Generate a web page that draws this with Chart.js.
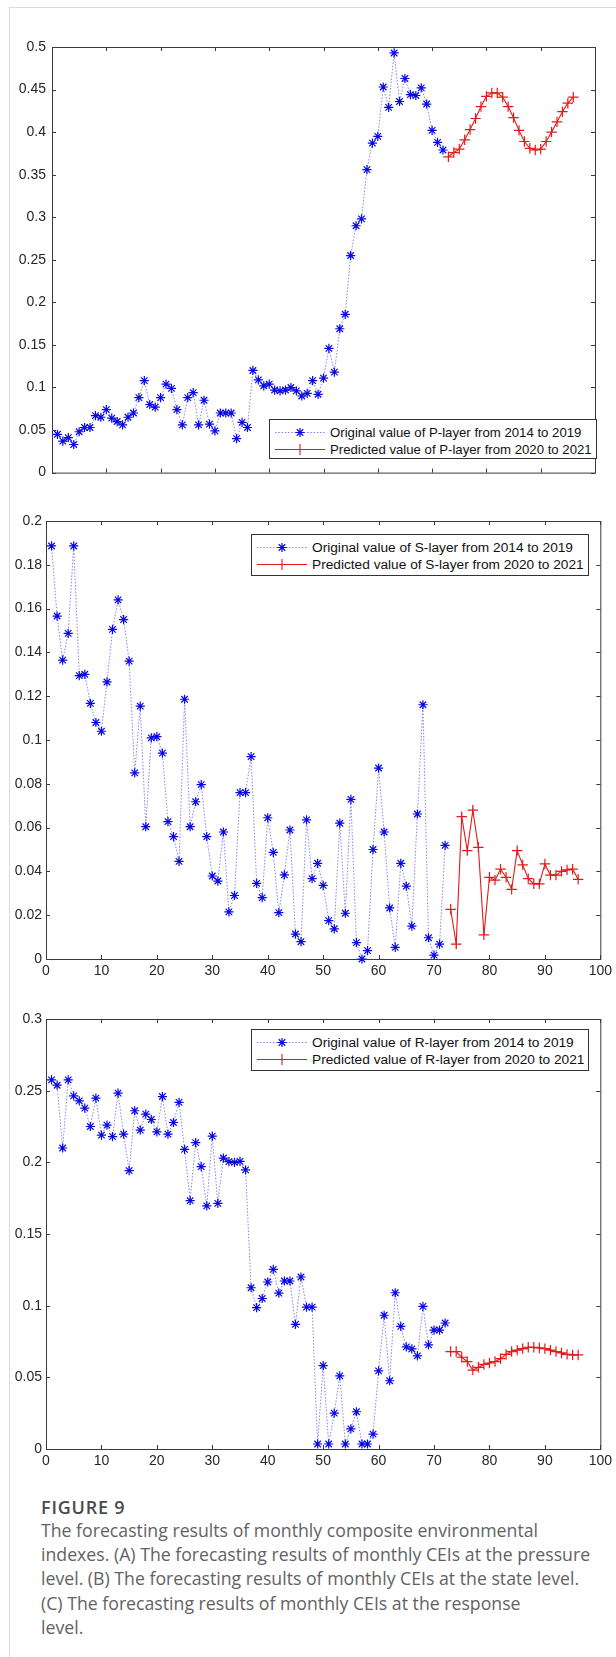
<!DOCTYPE html>
<html>
<head>
<meta charset="utf-8">
<script src="https://cdn.jsdelivr.net/npm/chart.js@4.4.0/dist/chart.umd.min.js"></script>
<style>
  html, body { margin: 0; padding: 0; background: #fff; }
  body { width: 616px; height: 1657px; position: relative; overflow: hidden; font-family: 'Liberation Sans', Arial, sans-serif; }
  .card { position: absolute; left: 9px; top: 7px; width: 700px; height: 1700px; border-left: 1px solid #dcdcdc; border-top: 1px solid #dcdcdc; }
  .panel { position: absolute; left: 0; width: 616px; overflow: hidden; }
  .panel canvas { position: absolute; left: 0; top: 0; }
  .legend { position: absolute; background: #fff; border: 1px solid #333; box-sizing: border-box; font-size: 13.7px; color: #111; }
  .legend .row { position: absolute; left: 0; height: 17px; display: flex; align-items: center; white-space: nowrap; }
  .legend svg { margin-left: 5px; margin-right: 5px; flex: none; }
  .fig-title { position: absolute; left: 41px; top: 1497px; font-family: 'Open Sans', Lato, sans-serif; font-size: 18px; font-weight: 600; letter-spacing: 0.8px; line-height: 20px; color: #4a4a4a; }
  .caption { position: absolute; left: 41px; top: 1518px; font-family: 'Open Sans', Lato, sans-serif; font-size: 17.7px; line-height: 24.2px; color: #626262; white-space: nowrap; }
</style>
</head>
<body>
<div class="card"></div>

<div class="panel" id="wrapP" style="top:27px;height:451px;"><canvas id="chartP" width="616" height="460"></canvas></div>
<div class="panel" id="wrapS" style="top:500px;height:500px;"><canvas id="chartS" width="616" height="500"></canvas></div>
<div class="panel" id="wrapR" style="top:998px;height:490px;"><canvas id="chartR" width="616" height="490"></canvas></div>

<div class="legend" id="legP" style="left:269px;top:419px;width:328px;height:40px;font-size:13.2px;"></div>
<div class="legend" id="legS" style="left:251px;top:534px;width:338px;height:42px;"></div>
<div class="legend" id="legR" style="left:251px;top:1029px;width:338px;height:42px;"></div>

<div class="fig-title">FIGURE 9</div>
<div class="caption">The forecasting results of monthly composite environmental<br>indexes. (A) The forecasting results of monthly CEIs at the pressure<br>level. (B) The forecasting results of monthly CEIs at the state level.<br>(C) The forecasting results of monthly CEIs at the response<br>level.</div>

<script>
(function () {
  'use strict';

  // months 1-72 = 2014..2019 (observed), 73-96 = 2020..2021 (predicted)
  var origMonths = [1, 2, 3, 4, 5, 6, 7, 8, 9, 10, 11, 12, 13, 14, 15, 16, 17, 18, 19, 20, 21, 22, 23, 24,
    25, 26, 27, 28, 29, 30, 31, 32, 33, 34, 35, 36, 37, 38, 39, 40, 41, 42, 43, 44, 45, 46, 47, 48,
    49, 50, 51, 52, 53, 54, 55, 56, 57, 58, 59, 60, 61, 62, 63, 64, 65, 66, 67, 68, 69, 70, 71, 72];
  var predMonths = [73, 74, 75, 76, 77, 78, 79, 80, 81, 82, 83, 84,
    85, 86, 87, 88, 89, 90, 91, 92, 93, 94, 95, 96];

  var xTicks = [0, 10, 20, 30, 40, 50, 60, 70, 80, 90, 100];
  var yTicksP = [0, 0.05, 0.1, 0.15, 0.2, 0.25, 0.3, 0.35, 0.4, 0.45, 0.5];
  var yTicksS = [0, 0.02, 0.04, 0.06, 0.08, 0.1, 0.12, 0.14, 0.16, 0.18, 0.2];
  var yTicksR = [0, 0.05, 0.1, 0.15, 0.2, 0.25, 0.3];

  // P-layer
  var pOrig = [0.045, 0.037, 0.041, 0.033, 0.048, 0.053, 0.053, 0.067, 0.065, 0.074, 0.064, 0.060,
    0.056, 0.065, 0.070, 0.088, 0.108, 0.080, 0.077, 0.088, 0.104, 0.099, 0.074, 0.056,
    0.088, 0.094, 0.056, 0.085, 0.057, 0.049, 0.070, 0.070, 0.070, 0.040, 0.059, 0.053,
    0.120, 0.109, 0.102, 0.104, 0.097, 0.096, 0.097, 0.100, 0.096, 0.090, 0.093, 0.108,
    0.092, 0.111, 0.146, 0.118, 0.169, 0.186, 0.255, 0.290, 0.298, 0.356, 0.387, 0.395,
    0.453, 0.429, 0.493, 0.436, 0.463, 0.444, 0.443, 0.452, 0.433, 0.402, 0.388, 0.379];
  var pPred = [0.371, 0.376, 0.380, 0.391, 0.403, 0.416, 0.430, 0.442, 0.446, 0.446, 0.441, 0.430,
    0.417, 0.402, 0.389, 0.381, 0.379, 0.380, 0.389, 0.400, 0.412, 0.424, 0.434, 0.441];

  // S-layer
  var sOrig = [0.1886, 0.1566, 0.1365, 0.1487, 0.1886, 0.1294, 0.1300, 0.1167, 0.1080, 0.1040, 0.1265, 0.1505,
    0.1640, 0.1550, 0.1360, 0.0850, 0.1155, 0.0604, 0.1010, 0.1015, 0.0940, 0.0627, 0.0559, 0.0446,
    0.1186, 0.0604, 0.0718, 0.0796, 0.0559, 0.0379, 0.0356, 0.0580, 0.0215, 0.0290, 0.0760, 0.0760,
    0.0924, 0.0345, 0.0280, 0.0645, 0.0487, 0.0212, 0.0384, 0.0589, 0.0114, 0.0079, 0.0635, 0.0367,
    0.0437, 0.0336, 0.0175, 0.0138, 0.0620, 0.0209, 0.0729, 0.0075, 0.0000, 0.0038, 0.0500, 0.0872,
    0.0580, 0.0233, 0.0053, 0.0437, 0.0333, 0.0150, 0.0662, 0.1161, 0.0097, 0.0018, 0.0068, 0.0519];
  var sPred = [0.0227, 0.0068, 0.0650, 0.0495, 0.0680, 0.0510, 0.0110, 0.0373, 0.0360, 0.0410, 0.0373, 0.0318,
    0.0495, 0.0430, 0.0367, 0.0343, 0.0343, 0.0434, 0.0383, 0.0383, 0.0400, 0.0407, 0.0410, 0.0364];

  // R-layer
  var rOrig = [0.2575, 0.2538, 0.2100, 0.2575, 0.2464, 0.2429, 0.2378, 0.2250, 0.2448, 0.2190, 0.2260, 0.2179,
    0.2483, 0.2197, 0.1942, 0.2360, 0.2225, 0.2336, 0.2299, 0.2213, 0.2459, 0.2197, 0.2278, 0.2418,
    0.2090, 0.1733, 0.2137, 0.1970, 0.1696, 0.2183, 0.1714, 0.2030, 0.2005, 0.2000, 0.2007, 0.1947,
    0.1125, 0.0986, 0.1050, 0.1165, 0.1253, 0.1088, 0.1172, 0.1172, 0.0870, 0.1200, 0.0990, 0.0990,
    0.0035, 0.0582, 0.0035, 0.0250, 0.0510, 0.0035, 0.0140, 0.0260, 0.0035, 0.0035, 0.0104, 0.0545,
    0.0933, 0.0476, 0.1090, 0.0856, 0.0712, 0.0698, 0.0650, 0.0995, 0.0726, 0.0830, 0.0830, 0.0879];
  var rPred = [0.0680, 0.0680, 0.0640, 0.0610, 0.0550, 0.0570, 0.0590, 0.0600, 0.0610, 0.0630, 0.0660, 0.0680,
    0.0690, 0.0700, 0.0710, 0.0710, 0.0705, 0.0700, 0.0690, 0.0680, 0.0670, 0.0660, 0.0657, 0.0656];

  var legendP = ['Original value of P-layer from 2014 to 2019', 'Predicted value of P-layer from 2020 to 2021'];
  var legendS = ['Original value of S-layer from 2014 to 2019', 'Predicted value of S-layer from 2020 to 2021'];
  var legendR = ['Original value of R-layer from 2014 to 2019', 'Predicted value of R-layer from 2020 to 2021'];

  var AXIS_COLOR = '#3a3a3a';
  var TICK_COLOR = '#262626';
  var BLUE = '#0808e8';
  var BLUE_LINE = 'rgba(60, 60, 225, 0.6)';
  var RED = '#e41a1a';
  var FONT = "'Liberation Sans', Arial, sans-serif";

  function fmt(v) {
    return String(parseFloat(Number(v).toFixed(3)));
  }

  // MATLAB-like box with inward ticks on all four sides
  var matlabBox = {
    id: 'matlabBox',
    beforeDatasetsDraw: function (chart) {
      var ctx = chart.ctx;
      var a = chart.chartArea;
      var xs = chart.scales.x;
      var ys = chart.scales.y;
      var tl = 4;
      ctx.save();
      ctx.strokeStyle = AXIS_COLOR;
      ctx.lineWidth = 1;
      ctx.beginPath();
      xs.ticks.forEach(function (t) {
        var px = Math.round(xs.getPixelForValue(t.value)) + 0.5;
        ctx.moveTo(px, a.bottom); ctx.lineTo(px, a.bottom - tl);
        ctx.moveTo(px, a.top); ctx.lineTo(px, a.top + tl);
      });
      ys.ticks.forEach(function (t) {
        var py = Math.round(ys.getPixelForValue(t.value)) + 0.5;
        ctx.moveTo(a.left, py); ctx.lineTo(a.left + tl, py);
        ctx.moveTo(a.right, py); ctx.lineTo(a.right - tl, py);
      });
      ctx.stroke();
      ctx.strokeRect(a.left + 0.5, a.top + 0.5, a.right - a.left, a.bottom - a.top);
      ctx.restore();
    }
  };

  function makePanel(canvasId, orig, pred, yTicks, geo) {
    var ctx = document.getElementById(canvasId).getContext('2d');
    return new Chart(ctx, {
      type: 'line',
      data: {
        datasets: [{
          data: origMonths.map(function (m, i) { return { x: m, y: orig[i] }; }),
          borderColor: BLUE_LINE,
          borderWidth: 1,
          borderDash: [1.6, 1.6],
          pointStyle: 'star',
          pointRadius: 4.6,
          pointBorderWidth: 1.2,
          pointBorderColor: BLUE,
          pointBackgroundColor: BLUE,
          tension: 0,
          clip: false
        }, {
          data: predMonths.map(function (m, i) { return { x: m, y: pred[i] }; }),
          borderColor: RED,
          borderWidth: 1.1,
          pointStyle: 'cross',
          pointRadius: 5.2,
          pointBorderWidth: 1.2,
          pointBorderColor: RED,
          tension: 0,
          clip: false
        }]
      },
      plugins: [matlabBox],
      options: {
        responsive: false,
        animation: false,
        events: [],
        layout: { padding: { top: geo.padTop, right: geo.padRight, left: 0, bottom: 0 } },
        plugins: { legend: { display: false }, tooltip: { enabled: false } },
        scales: {
          x: {
            type: 'linear',
            min: 0,
            max: 100,
            grid: { display: false, drawTicks: false },
            border: { display: false },
            afterBuildTicks: function (s) { s.ticks = xTicks.map(function (v) { return { value: v }; }); },
            afterFit: function (s) { s.height = geo.xHeight; },
            ticks: {
              display: geo.showX,
              autoSkip: false,
              maxRotation: 0,
              padding: 4,
              color: TICK_COLOR,
              font: { family: FONT, size: 14 },
              callback: function (v) { return fmt(v); }
            }
          },
          y: {
            type: 'linear',
            min: yTicks[0],
            max: yTicks[yTicks.length - 1],
            grid: { display: false, drawTicks: false },
            border: { display: false },
            afterBuildTicks: function (s) { s.ticks = yTicks.map(function (v) { return { value: v }; }); },
            afterFit: function (s) { s.width = geo.yWidth; },
            ticks: {
              autoSkip: false,
              padding: geo.yPad,
              color: TICK_COLOR,
              font: { family: FONT, size: 14 },
              callback: function (v) { return fmt(v); }
            }
          }
        }
      }
    });
  }

  function starSvg(cx, cy, r) {
    var d = r * Math.SQRT1_2;
    return '<path d="M' + (cx - r) + ' ' + cy + 'H' + (cx + r) + 'M' + cx + ' ' + (cy - r) + 'V' + (cy + r) +
      'M' + (cx - d) + ' ' + (cy - d) + 'L' + (cx + d) + ' ' + (cy + d) +
      'M' + (cx - d) + ' ' + (cy + d) + 'L' + (cx + d) + ' ' + (cy - d) + '" stroke="' + BLUE + '" stroke-width="1.2" fill="none"/>';
  }

  function crossSvg(cx, cy, r) {
    return '<path d="M' + (cx - r) + ' ' + cy + 'H' + (cx + r) + 'M' + cx + ' ' + (cy - r) + 'V' + (cy + r) +
      '" stroke="' + RED + '" stroke-width="1.1" fill="none"/>';
  }

  function buildLegend(id, labels) {
    var el = document.getElementById(id);
    var w = 50, h = 17;
    var sample1 = '<svg width="' + w + '" height="' + h + '"><line x1="0" y1="8.5" x2="' + w + '" y2="8.5" stroke="' + BLUE_LINE +
      '" stroke-width="1" stroke-dasharray="1.6 1.6"/>' + starSvg(25, 8.5, 4.6) + '</svg>';
    var sample2 = '<svg width="' + w + '" height="' + h + '"><line x1="0" y1="8.5" x2="' + w + '" y2="8.5" stroke="' + RED +
      '" stroke-width="1.1"/>' + crossSvg(25, 8.5, 5.5) + '</svg>';
    el.innerHTML = '<div class="row" style="top:4px">' + sample1 + '<span>' + labels[0] + '</span></div>' +
      '<div class="row" style="top:21px">' + sample2 + '<span>' + labels[1] + '</span></div>';
  }

  makePanel('chartP', pOrig, pPred, yTicksP, { padTop: 20, padRight: 21, yWidth: 52, yPad: 6, xHeight: 12, showX: false });
  makePanel('chartS', sOrig, sPred, yTicksS, { padTop: 21, padRight: 14, yWidth: 46, yPad: 4, xHeight: 41, showX: true });
  makePanel('chartR', rOrig, rPred, yTicksR, { padTop: 21, padRight: 14, yWidth: 46, yPad: 4, xHeight: 39, showX: true });

  buildLegend('legP', legendP);
  buildLegend('legS', legendS);
  buildLegend('legR', legendR);
})();
</script>
</body>
</html>
